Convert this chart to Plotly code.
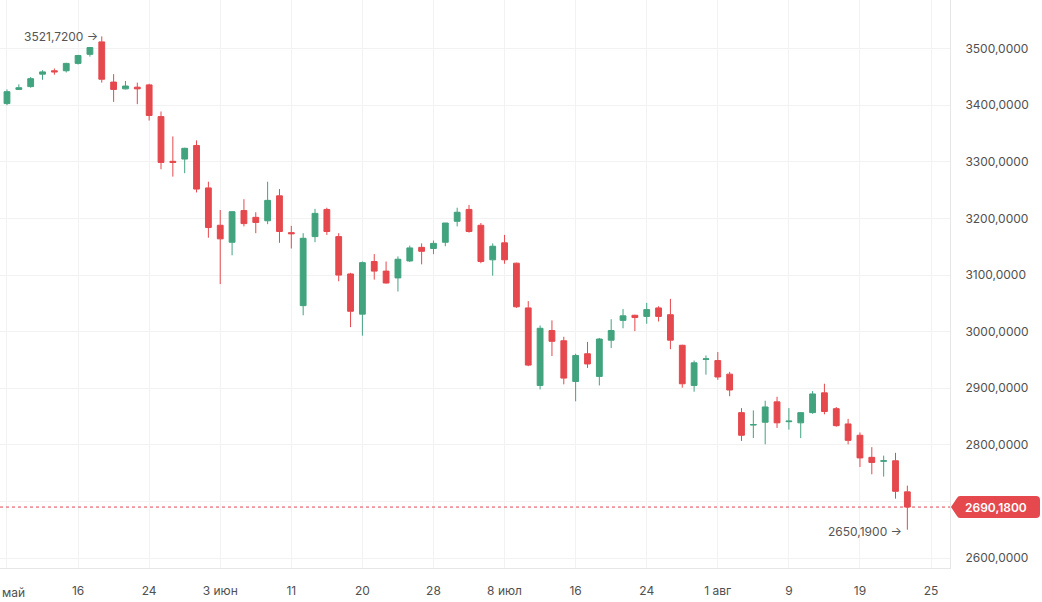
import pandas as pd
import plotly.graph_objects as go

# daily candles, trading days only
dates = pd.bdate_range("2024-05-06", "2024-08-23")
dates = dates[~dates.isin(pd.to_datetime(["2024-05-09", "2024-05-10", "2024-06-12"]))]

open_ = [3403, 3428, 3433, 3455, 3461, 3461, 3474, 3490, 3512, 3441,
         3429, 3432, 3436, 3380, 3301, 3305, 3329, 3254, 3188, 3158,
         3214, 3202, 3196, 3240, 3175, 3046, 3168, 3216, 3168, 3102,
         3031, 3124, 3107, 3095, 3125, 3149, 3147, 3158, 3195, 3216,
         3188, 3127, 3157, 3121, 3042, 2905, 3002, 2984, 2912, 2961,
         2921, 2985, 3020, 3029, 3027, 3042, 3030, 2976, 2905, 2951,
         2949, 2925, 2857, 2835, 2840, 2876, 2841, 2839, 2857, 2892,
         2864, 2837, 2817, 2778, 2771, 2772, 2717]
high = [3428, 3437, 3450, 3462, 3465, 3475, 3489, 3503, 3521.72, 3455,
        3443, 3440, 3438, 3389, 3345, 3325, 3338, 3265, 3215, 3213,
        3234, 3211, 3265, 3252, 3187, 3174, 3217, 3219, 3174, 3104,
        3124, 3137, 3124, 3133, 3152, 3156, 3161, 3192, 3219, 3224,
        3192, 3156, 3171, 3122, 3054, 3011, 3020, 2991, 2961, 2982,
        2989, 3022, 3040, 3030, 3051, 3045, 3058, 2977, 2949, 2958,
        2964, 2929, 2865, 2861, 2878, 2885, 2865, 2857, 2895, 2908,
        2867, 2846, 2822, 2796, 2781, 2786, 2728]
low = [3400, 3427, 3431, 3445, 3454, 3458, 3472, 3486, 3440, 3406,
       3428, 3402, 3373, 3287, 3274, 3280, 3246, 3166, 3084, 3135,
       3186, 3174, 3190, 3157, 3147, 3029, 3158, 3171, 3089, 3008,
       2993, 3092, 3085, 3071, 3123, 3119, 3137, 3151, 3186, 3175,
       3121, 3099, 3120, 3042, 2939, 2898, 2957, 2907, 2877, 2936,
       2905, 2971, 3006, 3001, 3014, 3018, 2969, 2901, 2894, 2924,
       2915, 2886, 2807, 2812, 2801, 2830, 2827, 2812, 2855, 2854,
       2832, 2801, 2761, 2748, 2744, 2705, 2650.19]
close = [3424, 3431, 3447, 3459, 3459, 3474, 3488, 3502, 3446, 3428,
         3434, 3429, 3382, 3299, 3299, 3324, 3252, 3184, 3164, 3212,
         3191, 3193, 3232, 3177, 3173, 3165, 3209, 3177, 3100, 3036,
         3122, 3107, 3086, 3128, 3148, 3142, 3156, 3192, 3211, 3177,
         3124, 3151, 3127, 3044, 2941, 3006, 2983, 2918, 2958, 2943,
         2987, 3002, 3028, 3025, 3039, 3027, 2985, 2908, 2945, 2952,
         2920, 2897, 2817, 2836, 2867, 2839, 2842, 2857, 2890, 2859,
         2834, 2808, 2777, 2769, 2772, 2718, 2690.18]

tick_pos = [0, 6, 12, 18, 24, 30, 36, 42, 48, 54, 60, 66, 72, 78]
tick_text = ["май", "16", "24", "3 июн", "11", "20", "28", "8 июл",
             "16", "24", "1 авг", "9", "19", "25"]

GREEN = "#42a37f"
RED = "#e5484d"
FONT = "Inter"

x = list(range(len(close)))

fig = go.Figure(go.Candlestick(
    x=x, open=open_, high=high, low=low, close=close,
    text=[d.strftime("%d.%m.%Y") for d in dates],
    increasing=dict(line=dict(color=GREEN, width=1), fillcolor=GREEN),
    decreasing=dict(line=dict(color=RED, width=1), fillcolor=RED),
    showlegend=False,
))

# plot area is 950 x 568 px
W, H = 950, 568
y0, y1 = 2582.5, 3586.0

def px_x(p):
    return p / W

def px_y(p):
    return (H - p) / H

last = close[-1]
c = 48.7 + (3500 - last) * H / (y1 - y0)  # pixel row of the last price
top, bot = c - 11, c + 11
pts = [("M", 951, c), ("L", 957, top + 2), ("Q", 958, top, 960, top),
       ("L", 1036, top), ("Q", 1040, top, 1040, top + 4),
       ("L", 1040, bot - 4), ("Q", 1040, bot, 1036, bot),
       ("L", 960, bot), ("Q", 958, bot, 957, bot - 2)]
path = ""
for p in pts:
    cmd, rest = p[0], p[1:]
    coords = []
    for i in range(0, len(rest), 2):
        coords.append(f"{px_x(rest[i]):.5f},{px_y(rest[i+1]):.5f}")
    path += cmd + " ".join(coords) + " "
path += "Z"

fig.add_shape(type="line", xref="paper", yref="y", x0=0, x1=1, y0=last, y1=last,
              line=dict(color=RED, width=1, dash="dot"))
fig.add_shape(type="path", xref="paper", yref="paper", path=path,
              fillcolor=RED, line=dict(width=0))

fig.add_annotation(xref="paper", yref="y", x=996 / W, y=last, text="2690,1800",
                   showarrow=False, xanchor="center", yanchor="middle",
                   font=dict(family=FONT, size=12, color="white", weight=600))

i_hi = high.index(max(high))
i_lo = low.index(min(low))
fig.add_annotation(x=i_hi, y=high[i_hi], text="3521,7200 →", showarrow=False,
                   xanchor="right", yanchor="middle", xshift=-2,
                   font=dict(family=FONT, size=12, color="#555"))
fig.add_annotation(x=i_lo, y=low[i_lo], text="2650,1900 →", showarrow=False,
                   xanchor="right", yanchor="middle", xshift=-3, yshift=-2,
                   font=dict(family=FONT, size=12, color="#555"))

# first month label sits flush with the left edge
fig.add_annotation(xref="paper", yref="paper", x=0, y=0, yshift=-24,
                   text=tick_text[0], showarrow=False, xanchor="left",
                   yanchor="middle", font=dict(family=FONT, size=12, color="#505050"))
axis_text = [""] + tick_text[1:]

fig.update_layout(
    width=1042, height=602,
    margin=dict(l=0, r=92, t=0, b=34),
    paper_bgcolor="white", plot_bgcolor="white",
    font=dict(family=FONT, size=12, color="#505050"),
    separators=", ",
    xaxis=dict(range=[-0.59, 79.6], tickvals=tick_pos, ticktext=axis_text,
               showgrid=True, gridcolor="#f2f2f2", zeroline=False,
               showline=True, linecolor="#e6e6e6", ticks="",
               ticklabelstandoff=12, rangeslider=dict(visible=False),
               fixedrange=True),
    yaxis=dict(side="right", range=[y0, y1], dtick=100, tickformat=".4f",
               showgrid=True, gridcolor="#f2f2f2", zeroline=False,
               showline=True, linecolor="#e6e6e6", ticks="",
               ticklabelstandoff=12),
)

fig.write_html("out.html", config={"displayModeBar": False},
               post_script="document.body.style.margin='0';")
